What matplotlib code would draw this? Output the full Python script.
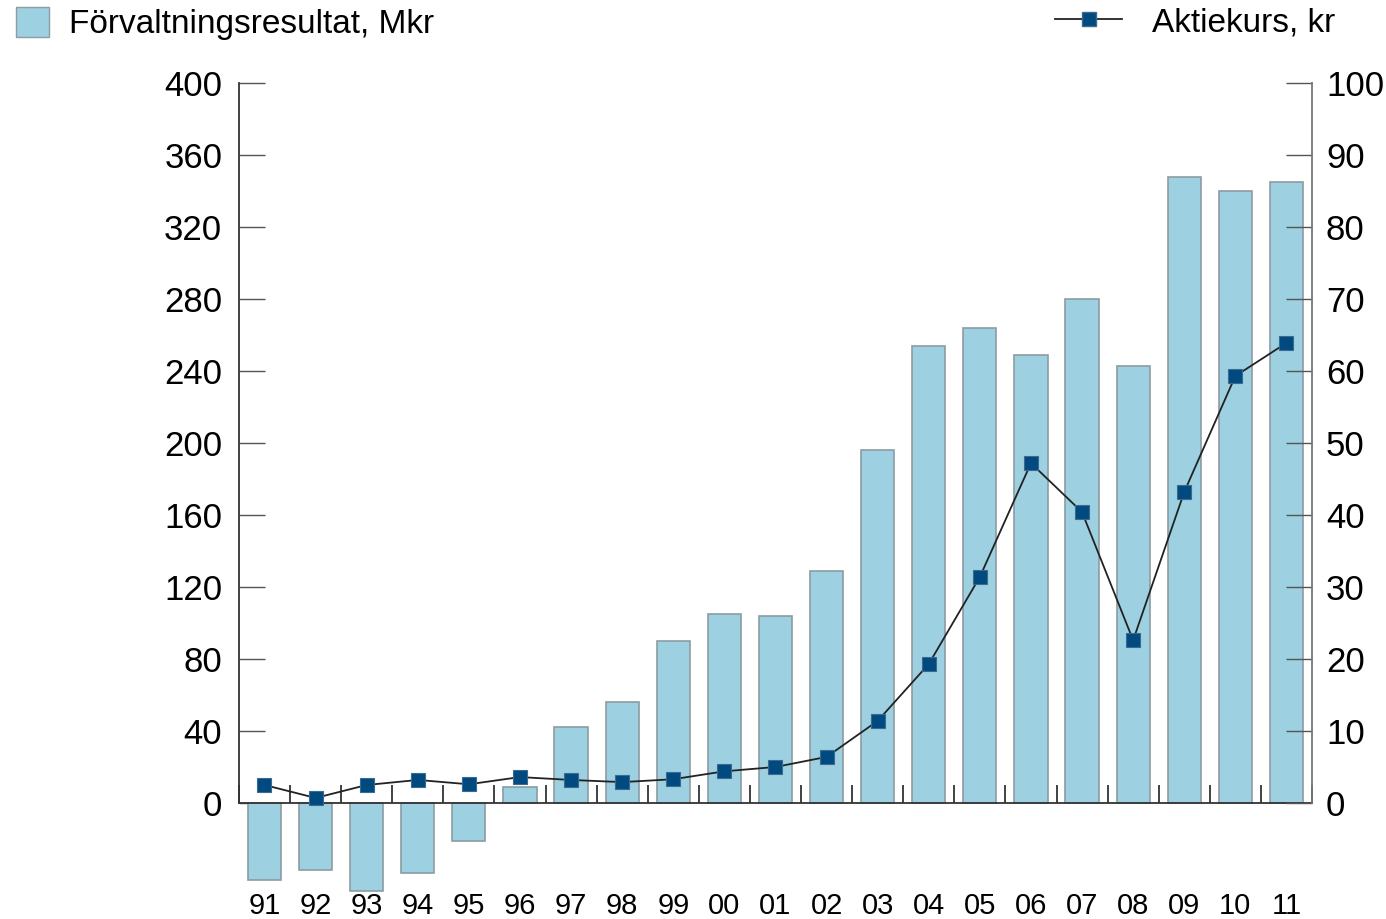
import numpy as np
import matplotlib.pyplot as plt
from matplotlib.patches import Patch
from matplotlib.lines import Line2D

plt.rcParams['font.family'] = ['Liberation Sans Narrow', 'Liberation Sans', 'DejaVu Sans']

years = ['91', '92', '93', '94', '95', '96', '97', '98', '99', '00', '01',
         '02', '03', '04', '05', '06', '07', '08', '09', '10', '11']
resultat = [-43, -37, -49, -39, -21, 9, 42, 56, 90, 105, 104,
            129, 196, 254, 264, 249, 280, 243, 348, 340, 345]
aktiekurs = [2.5, 0.7, 2.5, 3.2, 2.6, 3.6, 3.2, 2.9, 3.3, 4.4, 5.0,
             6.4, 11.4, 19.3, 31.4, 47.2, 40.4, 22.6, 43.2, 59.3, 63.9]

bar_color = '#9dd0e0'
bar_edge = '#8c9ca3'
mark_color = '#004a80'
axis_color = '#333333'

fig = plt.figure(figsize=(13.86, 9.19), dpi=100)
ax = fig.add_axes([0.1724, 0.0283, 0.7742, 0.8814])
x = np.arange(len(years))

ax.bar(x, resultat, width=0.65, color=bar_color, edgecolor=bar_edge,
       linewidth=1.2, zorder=2)
ax.set_xlim(-0.5, len(years) - 0.5)
ax.set_ylim(-50, 400)

# axes styling
ax.spines['top'].set_visible(False)
ax.spines['right'].set_visible(False)
ax.spines['bottom'].set_position(('data', 0))
ax.spines['left'].set_bounds(0, 400)
for s in ['left', 'bottom']:
    ax.spines[s].set_color(axis_color)
    ax.spines[s].set_linewidth(1.3)

ax.set_yticks(np.arange(0, 401, 40))
ax.tick_params(axis='y', direction='in', length=19, width=1.0,
               color='#555555', labelsize=25, pad=12)
ax.set_xticks(x)
ax.set_xticklabels(years)
ax.set_xticks(np.arange(-0.5, len(years), 1), minor=True)
ax.tick_params(axis='x', which='major', length=0, labelsize=21, pad=64)
ax.tick_params(axis='x', which='minor', direction='in', length=13,
               width=1.3, color=axis_color)

# right axis for share price
ax2 = ax.twinx()
ax2.set_ylim(-12.5, 100)
ax2.plot(x, aktiekurs, '-', color='#222222', linewidth=1.3,
         marker='s', markersize=10, markerfacecolor=mark_color,
         markeredgecolor='#3a6a90', markeredgewidth=0.8, zorder=3)
ax2.spines['top'].set_visible(False)
ax2.spines['left'].set_visible(False)
ax2.spines['bottom'].set_visible(False)
ax2.spines['right'].set_bounds(0, 100)
ax2.spines['right'].set_color('#777777')
ax2.spines['right'].set_linewidth(1.3)
ax2.set_yticks(np.arange(0, 101, 10))
ax2.tick_params(axis='y', direction='in', length=19, width=1.0,
                color='#555555', labelsize=25, pad=10)

# legends
bar_handle = Patch(facecolor=bar_color, edgecolor=bar_edge, linewidth=1.0)
fig.legend([bar_handle], ['Förvaltningsresultat, Mkr'], loc='upper left',
           bbox_to_anchor=(-0.01, 1.025), frameon=False, fontsize=24,
           handlelength=1.0, handleheight=1.0, handletextpad=0.6)
line_handle = Line2D([], [], color='#222222', linewidth=1.3, marker='s',
                     markersize=10, markerfacecolor=mark_color,
                     markeredgecolor='#3a6a90')
fig.legend([line_handle], ['Aktiekurs, kr'], loc='upper right',
           bbox_to_anchor=(0.985, 1.025), frameon=False, fontsize=24,
           handlelength=2.0, handletextpad=0.9)

fig.savefig('out.png', dpi=100)
